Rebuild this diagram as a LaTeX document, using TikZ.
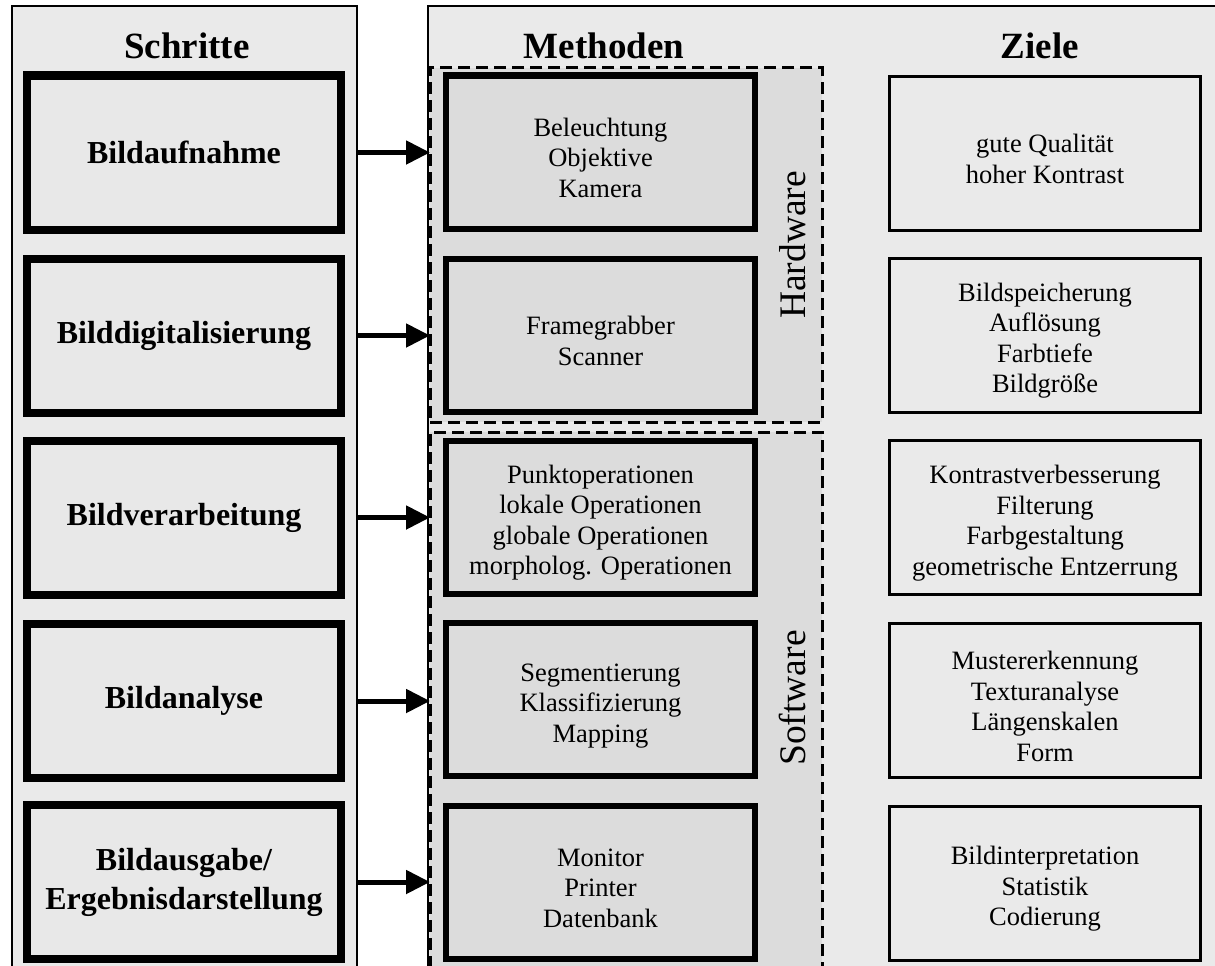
\documentclass[tikz,border=0pt]{standalone}
\usepackage{fontspec}
\setmainfont{Liberation Serif}
\usetikzlibrary{arrows.meta}
\definecolor{framefill}{HTML}{EAEAEA}
\definecolor{stepfill}{HTML}{E8E8E8}
\definecolor{dashfill}{HTML}{DCDCDC}
\definecolor{methfill}{HTML}{DCDCDC}
\newcommand\mystrut{\rule{0pt}{30pt}}
\begin{document}
\begin{tikzpicture}[x=1pt,y=-1pt,
  frame/.style={draw, line width=2.5pt, fill=framefill, outer sep=0pt, inner sep=0pt, anchor=north west},
  head/.style={font=\fontsize{37}{44}\selectfont\bfseries, anchor=base, inner sep=0pt},
  stepbox/.style={draw, line width=8pt, fill=stepfill, minimum width=314pt, minimum height=154pt,
    align=center, font=\fontsize{32}{39}\selectfont\bfseries, inner sep=0pt},
  methbox/.style={draw, line width=6pt, fill=methfill, minimum width=309pt, minimum height=153pt,
    align=center, font=\fontsize{26.5}{30.5}\selectfont, inner sep=0pt},
  zielbox/.style={draw, line width=3pt, fill=framefill, minimum width=311pt, minimum height=154pt,
    align=center, font=\fontsize{26.5}{30.5}\selectfont, inner sep=0pt},
  groupbox/.style={draw, dash pattern=on 12pt off 6pt, line width=3pt, fill=dashfill,
    outer sep=0pt, inner sep=0pt, anchor=north west, minimum width=392pt},
  arr/.style={line width=5pt, -{Triangle[length=24pt,width=23pt]}},
  vlabel/.style={rotate=90, anchor=base, inner sep=0pt, font=\fontsize{37.5}{45}\selectfont}
]
\useasboundingbox (0,0) rectangle (1215,966);
\fill[white] (0,0) rectangle (1215,966);
\clip (0,0) rectangle (1215,966);

% outer frames
\node[frame, minimum width=345pt, minimum height=1010pt] (lf) at (12,6) {};
\node[frame, minimum width=850pt, minimum height=1010pt] (rf) at (428,6) {};

% headers
\node[head] (hs) at (187,59) {Schritte};
\node[head] (hm) at (604,59) {Methoden};
\node[head] (hz) at (1040,59) {Ziele};

% hardware / software groups
\node[groupbox, minimum height=354pt] (hw) at (430,68) {};
\node[groupbox, minimum height=600pt] (sw) at (430,432) {};
\node[vlabel] (hwl) at (805,245) {Hardware};
\node[vlabel] (swl) at (805,698) {Software};

% steps
\node[stepbox] (s1) at (184,152.5) {Bildaufnahme};
\node[stepbox] (s2) at (184,335.5) {Bilddigitalisierung};
\node[stepbox] (s3) at (184,517.5) {Bildverarbeitung};
\node[stepbox] (s4) at (184,701) {Bildanalyse};
\node[stepbox] (s5) at (184,882) {Bildausgabe/\\Ergebnisdarstellung};

% methods
\node[methbox] (m1) at (600.5,152) {\mystrut Beleuchtung\\Objektive\\Kamera};
\node[methbox] (m2) at (600.5,335) {\mystrut Framegrabber\\Scanner};
\node[methbox] (m3) at (600.5,517) {\mystrut Punktoperationen\\lokale Operationen\\globale Operationen\\morpholog. Operationen};
\node[methbox] (m4) at (600.5,699.5) {\mystrut Segmentierung\\Klassifizierung\\Mapping};
\node[methbox] (m5) at (600.5,882) {\mystrut Monitor\\Printer\\Datenbank};

% goals
\node[zielbox] (z1) at (1045,153) {\mystrut gute Qualität\\hoher Kontrast};
\node[zielbox] (z2) at (1045,335) {\mystrut Bildspeicherung\\Auflösung\\Farbtiefe\\Bildgröße};
\node[zielbox] (z3) at (1045,517.5) {\mystrut Kontrastverbesserung\\Filterung\\Farbgestaltung\\geometrische Entzerrung};
\node[zielbox] (z4) at (1045,700.5) {\mystrut Mustererkennung\\Texturanalyse\\Längenskalen\\Form};
\node[zielbox] (z5) at (1045,883) {\mystrut Bildinterpretation\\Statistik\\Codierung};

% arrows
\draw[arr] (s1.east -| lf.east) -- (s1.east -| hw.west);
\draw[arr] (s2.east -| lf.east) -- (s2.east -| hw.west);
\draw[arr] (s3.east -| lf.east) -- (s3.east -| sw.west);
\draw[arr] (s4.east -| lf.east) -- (s4.east -| sw.west);
\draw[arr] (s5.east -| lf.east) -- (s5.east -| sw.west);
\end{tikzpicture}
\end{document}
